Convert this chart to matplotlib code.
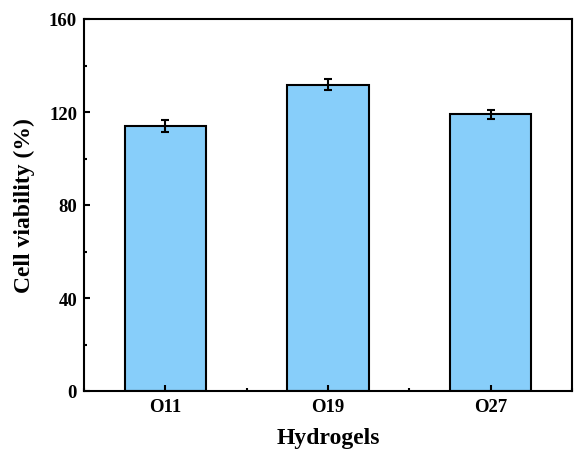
import matplotlib
matplotlib.use("Agg")
import matplotlib.pyplot as plt
from matplotlib.ticker import MultipleLocator

# data
groups = ["O11", "O19", "O27"]
viability = [114.0, 131.8, 119.0]
errors = [2.6, 2.5, 1.8]

plt.rcParams['font.family'] = ['Liberation Serif', 'DejaVu Serif']
plt.rcParams['font.weight'] = 'bold'

fig = plt.figure(figsize=(5.74, 4.56), dpi=100)
ax = fig.add_axes([84 / 574, 64 / 456, 488 / 574, 372 / 456])

x = list(range(len(groups)))
ax.bar(x, viability, width=0.5, color="#87CEFA", edgecolor="black", linewidth=1.5,
       yerr=errors, capsize=3, error_kw=dict(elinewidth=1.5, capthick=1.5, ecolor="black"))

ax.set_xlim(-0.5, 2.5)
ax.set_ylim(0, 160)
ax.set_xticks(x)
ax.set_xticklabels(groups)
ax.xaxis.set_minor_locator(MultipleLocator(0.5))
ax.yaxis.set_major_locator(MultipleLocator(40))
ax.yaxis.set_minor_locator(MultipleLocator(20))
ax.tick_params(which="both", direction="in", labelsize=13.5, width=1.5)
ax.tick_params(which="major", length=4, pad=5)
ax.tick_params(which="minor", length=2.5)
ax.tick_params(axis="x", which="minor", length=2)
for s in ax.spines.values():
    s.set_linewidth(1.5)

ax.set_xlabel("Hydrogels", fontsize=17, fontweight="bold", labelpad=9)
ax.set_ylabel("Cell viability (%)", fontsize=17, fontweight="bold", labelpad=10)

fig.savefig("out.png", dpi=100)
